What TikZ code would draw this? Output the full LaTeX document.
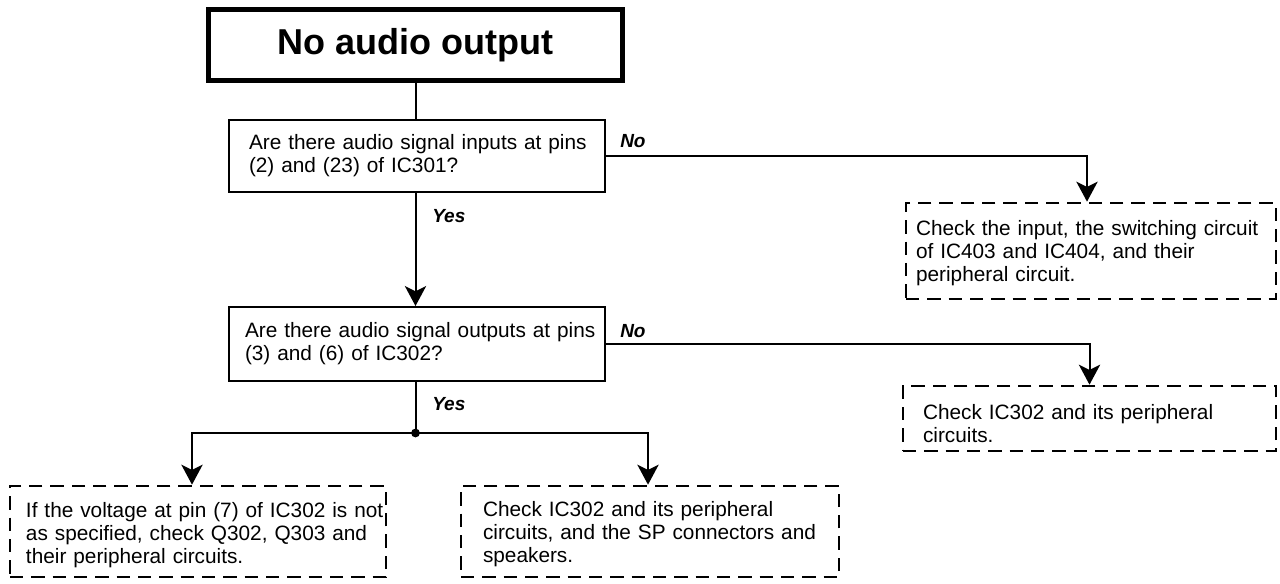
\documentclass[tikz,border=0pt]{standalone}
\usepackage{fontspec}
\setmainfont{Liberation Sans}
\usetikzlibrary{arrows.meta}
\newcommand{\topstrut}[1]{\rule{0pt}{#1}}
\begin{document}
\begin{tikzpicture}[x=0.75pt,y=-0.75pt,
  body/.style={font=\fontsize{15.6pt}{17.25pt}\selectfont},
  qbox/.style={draw, line width=1.5pt, rectangle, align=left, inner ysep=0pt, body},
  cbox/.style={draw, line width=2pt, dash pattern=on 10pt off 6pt, rectangle, align=left, inner ysep=0pt, body},
  titlebox/.style={draw, line width=3.75pt, rectangle, inner sep=0pt, font=\fontsize{27pt}{30pt}\selectfont\bfseries},
  conn/.style={line width=1.5pt},
  arr/.style={conn, -{Stealth[length=15pt,width=16pt,inset=4pt]}},
  lbl/.style={font=\fontsize{14.25pt}{16pt}\selectfont\bfseries\itshape, inner sep=0pt, anchor=west},
]
\useasboundingbox (0,0) rectangle (1280,584);

\node[titlebox, minimum width=310.5pt, minimum height=53.25pt] (title) at (415.5,45) {No audio output};

\node[qbox, text width=252pt, inner xsep=15pt, minimum height=54pt] (q1) at (417,156)
  {\mbox{Are there audio signal inputs at pins}\\(2) and (23) of IC301?};
\node[qbox, text width=258pt, inner xsep=12pt, minimum height=55.5pt] (q2) at (417,344)
  {\mbox{Are there audio signal outputs at pins}\\(3) and (6) of IC302?};

\node[cbox, text width=262.5pt, inner xsep=7.5pt, minimum height=72pt] (c3) at (1091,251)
  {\topstrut{14pt}\mbox{Check the input, the switching circuit}\\of IC403 and IC404, and their\\peripheral circuit.};
\node[cbox, text width=249.75pt, inner xsep=15pt, minimum height=48.75pt] (c4) at (1089.5,418.5)
  {\topstrut{19pt}Check IC302 and its peripheral\\circuits.};
\node[cbox, text width=258pt, inner xsep=12pt, minimum height=68.25pt] (cL) at (198,531.5)
  {\topstrut{17pt}\mbox{If the voltage at pin (7) of IC302 is not}\\\mbox{as specified, check Q302, Q303 and}\\their peripheral circuits.};
\node[cbox, text width=250.5pt, inner xsep=16.5pt, minimum height=68.25pt] (cM) at (650,531.5)
  {\topstrut{15pt}Check IC302 and its peripheral\\\mbox{circuits, and the SP connectors and}\\speakers.};

\node[lbl] (no1) at (620,141) {No};
\node[lbl] (yes1) at (432,216) {Yes};
\node[lbl] (no2) at (620,331) {No};
\node[lbl] (yes2) at (432,404) {Yes};

\draw[conn] (title.south) -- (title.south |- q1.north);
\draw[arr] (q1.south -| title.south) -- (q2.north -| title.south);
\draw[arr] (q1.east) -| ([xshift=-3pt]c3.north);
\draw[arr] (q2.east) -| (c4.north);
\coordinate (j) at (415.5,433);
\draw[conn] (q2.south -| j) -- (j);
\fill (j) circle (3.3pt);
\draw[arr] (j) -| ([xshift=-4.5pt]cL.north);
\draw[arr] (j) -| ([xshift=-1.5pt]cM.north);
\end{tikzpicture}
\end{document}
